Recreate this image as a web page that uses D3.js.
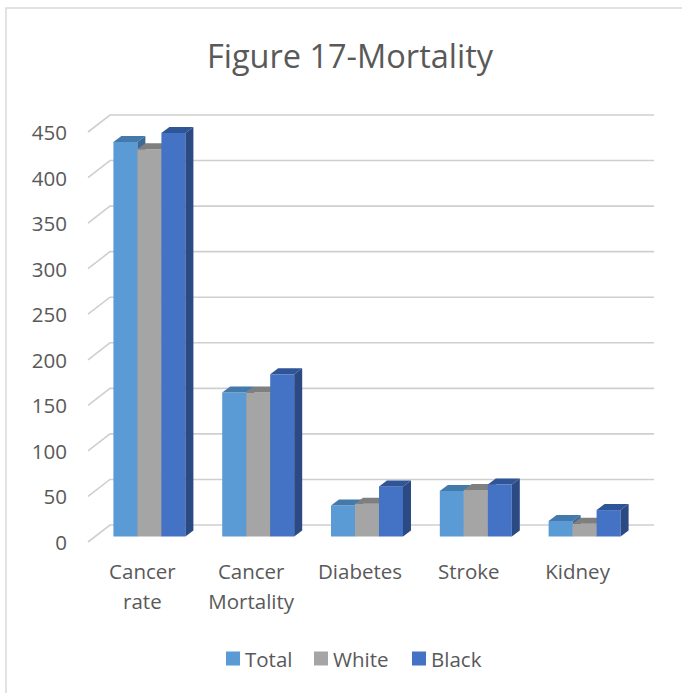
<!DOCTYPE html>
<html>
<head>
<meta charset="utf-8">
<script src="https://cdn.jsdelivr.net/npm/d3@7"></script>
<style>
  html, body { margin: 0; padding: 0; background: #fff; }
  svg { display: block; }
  text { font-family: "Open Sans", "Noto Sans", sans-serif; fill: #595959; }
</style>
</head>
<body>
<svg id="chart" width="682" height="693"></svg>
<script>
// Chart values
const categories = ["Cancer rate", "Cancer Mortality", "Diabetes", "Stroke", "Kidney"];
const seriesNames = ["Total", "White", "Black"];
const totalValues = [433, 158, 34, 50, 17];
const whiteValues = [425, 158, 36, 51, 14];
const blackValues = [443, 178, 55, 57, 29];
const yTicks = [0, 50, 100, 150, 200, 250, 300, 350, 400, 450];

const seriesValues = [totalValues, whiteValues, blackValues];
const frontColors = ["#5b9bd5", "#a5a5a5", "#4472c4"];
const topColors   = ["#4479ab", "#7f7f7f", "#2f5597"];
const sideColors  = ["#3c6a96", "#7a7a7a", "#2b4a83"];

const svg = d3.select("#chart");

// Oblique 3D projection: back wall plane, side-wall depth, bar depth
const wallDX = -22, wallDY = 17;      // back wall -> front edge
const barFrontDX = -15, barFrontDY = 11.5; // back wall -> bar front face
const barDepthX = 8, barDepthY = -6;  // bar front face -> bar back face

const x = d3.scaleBand().domain(categories).range([110, 654]);
const xs = d3.scaleBand().domain(seriesNames).range([0, x.bandwidth()]).paddingOuter(0.767);
const y = d3.scaleLinear().domain([0, 450]).range([525, 115]);

// Chart frame
svg.append("path")
  .attr("d", "M6,693 L6,8 L682,8")
  .attr("fill", "none").attr("stroke", "#d9d9d9").attr("stroke-width", 1.5);

// Title
svg.append("text")
  .attr("x", 350).attr("y", 55)
  .attr("text-anchor", "middle").attr("dominant-baseline", "central")
  .style("font-size", "32.5px")
  .text("Figure 17-Mortality");

// Gridlines: side wall diagonal + back wall horizontal
const grid = svg.append("g");
yTicks.forEach(t => {
  const yy = y(t);
  grid.append("path")
    .attr("d", `M${110 + wallDX},${yy + wallDY} L110,${yy} L654,${yy}`)
    .attr("fill", "none").attr("stroke", "#cfcfcf").attr("stroke-width", 1.6);
  grid.append("text")
    .attr("x", 67).attr("y", yy + wallDY)
    .attr("text-anchor", "end").attr("dominant-baseline", "central")
    .style("font-size", "20.5px")
    .text(t);
});

// Bars
const bars = svg.append("g");
categories.forEach((c, ci) => {
  seriesNames.forEach((s, si) => {
    const v = seriesValues[si][ci];
    const x0 = x(c) + xs(s) + barFrontDX;
    const w = xs.bandwidth();
    const yt = y(v) + barFrontDY;
    const yb = y(0) + barFrontDY;
    const g = bars.append("g");
    g.append("rect")
      .attr("x", x0).attr("y", yt).attr("width", w).attr("height", yb - yt)
      .attr("fill", frontColors[si]);
    g.append("path")
      .attr("d", `M${x0},${yt} L${x0 + w},${yt} L${x0 + w + barDepthX},${yt + barDepthY} L${x0 + barDepthX},${yt + barDepthY} Z`)
      .attr("fill", topColors[si]);
    g.append("path")
      .attr("d", `M${x0 + w},${yt} L${x0 + w + barDepthX},${yt + barDepthY} L${x0 + w + barDepthX},${yb + barDepthY} L${x0 + w},${yb} Z`)
      .attr("fill", sideColors[si]);
  });
});

// Category labels on the front edge
const catLabels = svg.append("g");
categories.forEach(c => {
  const lines = c.split(" ");
  const cx = x(c) + x.bandwidth() / 2 + wallDX;
  const t = catLabels.append("text")
    .attr("text-anchor", "middle")
    .style("font-size", "20.5px");
  lines.forEach((ln, i) => {
    t.append("tspan").attr("x", cx).attr("y", 579 + i * 30).text(ln);
  });
});

// Legend
const legendX = [226, 314, 412];
const legend = svg.append("g");
seriesNames.forEach((s, i) => {
  legend.append("rect")
    .attr("x", legendX[i]).attr("y", 651.5).attr("width", 14).attr("height", 14)
    .attr("fill", frontColors[i]);
  legend.append("text")
    .attr("x", legendX[i] + 19).attr("y", 658.5)
    .attr("dominant-baseline", "central")
    .style("font-size", "20.5px")
    .text(s);
});
</script>
</body>
</html>
